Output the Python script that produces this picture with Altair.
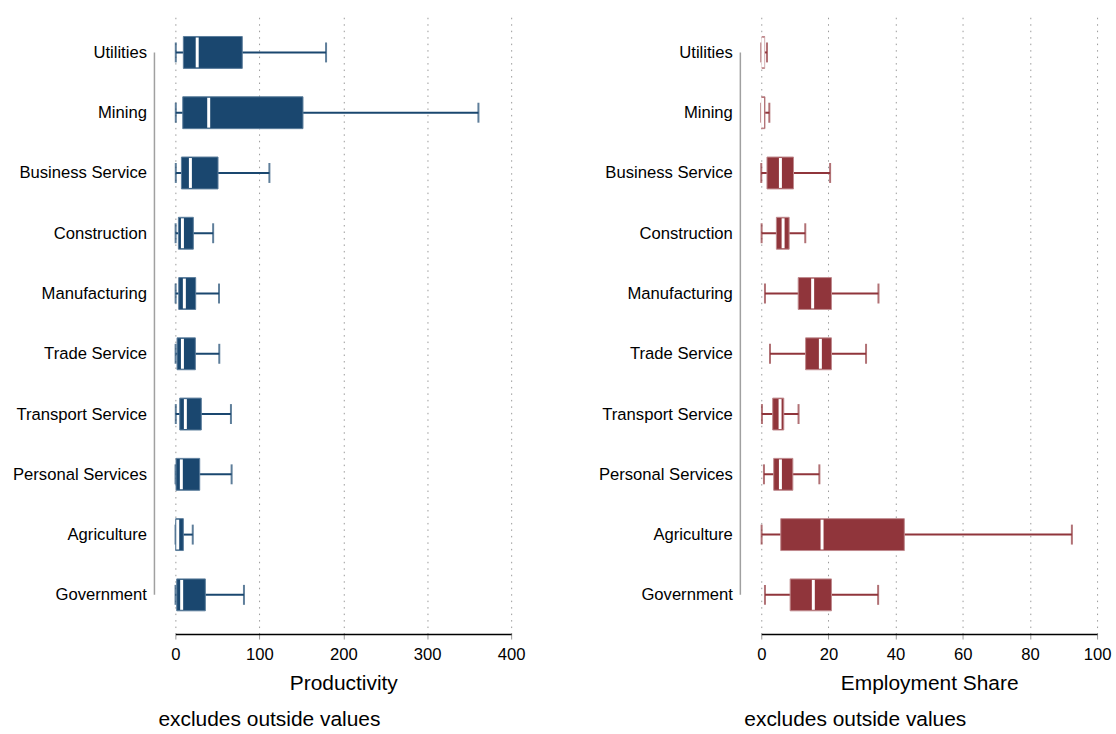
import altair as alt
import pandas as pd

categories = ["Utilities", "Mining", "Business Service", "Construction", "Manufacturing",
              "Trade Service", "Transport Service", "Personal Services", "Agriculture", "Government"]

# Productivity (left panel)
prod_low = [0.5, 0.5, 0.5, 0.3, 0.3, 0.3, 0.5, 0.2, 0.2, 0.2]
prod_q1 = [9.5, 8.8, 7.2, 3.6, 4.0, 2.0, 5.2, 0.8, 0.4, 1.6]
prod_med = [26.0, 39.7, 17.9, 8.4, 10.7, 8.4, 11.9, 7.1, 2.8, 7.5]
prod_q3 = [79.7, 152.0, 50.8, 21.4, 24.2, 23.8, 30.9, 29.0, 9.5, 35.7]
prod_high = [179.5, 361.0, 112.0, 45.0, 52.0, 52.3, 66.2, 67.0, 20.7, 81.7]

# Employment share (right panel)
emp_low = [0.0, 0.0, 0.0, 0.1, 1.1, 2.6, 0.2, 0.8, 0.1, 1.1]
emp_q1 = [0.2, 0.1, 1.7, 4.5, 11.0, 13.2, 3.4, 3.7, 5.8, 8.6]
emp_med = [0.5, 0.4, 5.7, 6.5, 15.3, 17.6, 5.6, 5.7, 18.1, 15.5]
emp_q3 = [1.0, 1.1, 9.6, 8.3, 20.9, 20.9, 6.7, 9.4, 42.6, 20.9]
emp_high = [1.7, 2.4, 20.5, 13.1, 34.9, 31.2, 11.1, 17.3, 92.5, 34.8]

FONT = "Liberation Sans"


def panel(low, q1, med, q3, high, color, edge, title, domain, ticks):
    df = pd.DataFrame({"cat": categories, "low": low, "q1": q1, "med": med, "q3": q3, "high": high})
    yscale = alt.Scale(type="point", domain=categories, padding=0.65)
    yenc = alt.Y("cat:N", scale=yscale,
                 axis=alt.Axis(title=None, ticks=False, domain=False, labelPadding=8, offset=21,
                               labelFontSize=16.7, labelColor="#000", labelFont=FONT, grid=False))
    xscale = alt.Scale(domain=domain, nice=False, zero=False)
    xaxis = alt.Axis(title=title, values=ticks, grid=True, gridDash=[1.5, 5], gridColor="#9a9a9a",
                     gridWidth=1, domainColor="#000", domainWidth=1.5, tickColor="#999",
                     tickSize=5, labelFontSize=16.7, labelColor="#000", labelFont=FONT,
                     labelPadding=8, titleFontSize=21, titleFontWeight="normal", titleFont=FONT,
                     titleColor="#000", titlePadding=9, format="d", labelFlush=False)
    base = alt.Chart(df)
    whisk = base.mark_rule(color=color, strokeWidth=2).encode(
        x=alt.X("low:Q", scale=xscale, axis=xaxis), x2="high:Q", y=yenc)
    cap_lo = base.mark_tick(color=color, size=20, thickness=2, orient="vertical").encode(
        x="low:Q", y=alt.Y("cat:N"))
    cap_hi = base.mark_tick(color=color, size=20, thickness=2, orient="vertical").encode(
        x="high:Q", y=alt.Y("cat:N"))
    box = base.mark_bar(color=color, size=32, stroke=edge, strokeWidth=1).encode(
        x="q1:Q", x2="q3:Q", y=alt.Y("cat:N"))
    median = base.mark_tick(color="white", size=30, thickness=3, orient="vertical", opacity=1).encode(
        x="med:Q", y=alt.Y("cat:N"))
    axdf = pd.DataFrame({"cat": [categories[0]], "b": [categories[-1]]})
    yline = alt.Chart(axdf).mark_rule(color="#a0a0a0", strokeWidth=1.5).encode(
        x=alt.value(-21), y=alt.Y("cat:N"), y2="b:N")
    return alt.layer(whisk, cap_lo, cap_hi, box, median, yline).properties(
        width=337, height=623,
        title=alt.TitleParams("excludes outside values", orient="bottom", anchor="start",
                              frame="group", dx=-17, fontSize=21, fontWeight="normal",
                              font=FONT, color="#000", offset=16))


left = panel(prod_low, prod_q1, prod_med, prod_q3, prod_high, "#1a476f", "#5b7d9c",
             "Productivity", [0, 400], [0, 100, 200, 300, 400])
right = panel(emp_low, emp_q1, emp_med, emp_q3, emp_high, "#90353b", "#c08a8e",
              "Employment Share", [0, 100], [0, 20, 40, 60, 80, 100])

chart = alt.hconcat(left, right, spacing=73).properties(
    padding={"left": 12, "top": 12, "right": 5, "bottom": 0},
    background="white"
).configure_view(strokeWidth=0, stroke=None)

chart.save("out.html", embed_options={"renderer": "svg", "actions": False})
